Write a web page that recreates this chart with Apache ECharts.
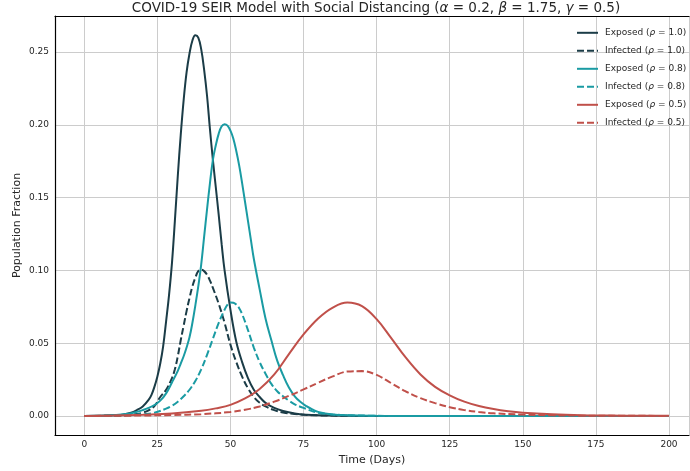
<!DOCTYPE html>
<html>
<head>
<meta charset="utf-8">
<script src="https://cdn.jsdelivr.net/npm/echarts@6/dist/echarts.min.js"></script>
<style>html,body{margin:0;padding:0;background:#fff;}#c{width:690px;height:471px;}</style>
</head>
<body>
<div id="c"></div>
<script>
// ---- data ----
const xTicks = [0, 25, 50, 75, 100, 125, 150, 175, 200];
const yTicks = [0.00, 0.05, 0.10, 0.15, 0.20, 0.25];

const seriesNames = [
  'Exposed (ρ = 1.0)', 'Infected (ρ = 1.0)',
  'Exposed (ρ = 0.8)', 'Infected (ρ = 0.8)',
  'Exposed (ρ = 0.5)', 'Infected (ρ = 0.5)'
];

const e1Days = [0,5,10,13,16,18,20,22,23,24,25,26,27,28,29,30,31,32,33,34,35,36,37,38,39,40,41,42,43,44,45,46,47,48,50,52,54,56,58,60,62,65,68,72,76,80,90,100,200];
const e1Vals = [0,0.0001,0.0004,0.0009,0.0022,0.004,0.0065,0.011,0.0145,0.020,0.027,0.036,0.048,0.065,0.083,0.105,0.134,0.165,0.193,0.217,0.236,0.249,0.258,0.2615,0.260,0.252,0.238,0.220,0.197,0.176,0.157,0.138,0.118,0.100,0.073,0.051,0.037,0.026,0.018,0.013,0.009,0.0055,0.0034,0.0017,0.0008,0.0004,0.0001,0,0];

const i1Days = [0,10,15,18,20,22,24,26,28,30,31,32,33,34,35,36,37,38,39,40,41,42,43,44,46,48,50,52,54,56,58,60,62,65,68,72,76,80,90,100,200];
const i1Vals = [0,0.0001,0.0006,0.0013,0.0022,0.0038,0.0068,0.013,0.018,0.026,0.032,0.041,0.052,0.062,0.072,0.081,0.089,0.095,0.0995,0.1005,0.0995,0.097,0.093,0.088,0.077,0.064,0.049,0.037,0.027,0.019,0.013,0.009,0.0065,0.004,0.0024,0.0013,0.0007,0.0004,0.0001,0,0];

const e2Days = [0,5,10,15,18,20,22,24,26,28,30,32,33,34,35,36,37,38,39,40,41,42,43,44,45,46,47,48,49,50,51,52,53,54,55,56,57,58,60,62,64,66,68,70,72,74,76,78,80,85,90,100,110,200];
const e2Vals = [0,0.0001,0.0005,0.0015,0.0028,0.004,0.0055,0.0075,0.0105,0.0155,0.023,0.031,0.036,0.041,0.047,0.054,0.064,0.076,0.089,0.104,0.123,0.142,0.160,0.176,0.186,0.194,0.199,0.2005,0.1995,0.196,0.1905,0.182,0.172,0.160,0.147,0.134,0.121,0.108,0.087,0.067,0.052,0.038,0.028,0.0195,0.0135,0.0095,0.0067,0.0045,0.0028,0.001,0.0004,0.0001,0,0];

const i2Days = [0,10,15,20,24,28,30,32,34,36,38,40,42,44,46,48,49,50,51,52,53,54,56,58,60,62,64,66,68,70,72,75,80,85,90,100,110,200];
const i2Vals = [0,0.0001,0.0004,0.0012,0.0022,0.005,0.007,0.0098,0.0135,0.018,0.024,0.032,0.042,0.053,0.064,0.073,0.0765,0.078,0.0778,0.0765,0.074,0.070,0.059,0.047,0.037,0.029,0.022,0.017,0.0135,0.0105,0.008,0.0055,0.0022,0.001,0.0005,0.0001,0,0];

const e3Days = [0,10,20,30,40,45,50,55,60,65,70,75,80,85,90,95,100,105,110,115,120,125,130,135,140,145,150,160,170,180,190,200];
const e3Vals = [0,0.0003,0.0008,0.0016,0.0035,0.0052,0.0076,0.012,0.0185,0.0285,0.0425,0.056,0.067,0.0745,0.078,0.0755,0.0665,0.0535,0.040,0.0285,0.020,0.0142,0.0098,0.0068,0.0047,0.0032,0.0022,0.0011,0.0005,0.0003,0.0001,0.0001];

const i3Days = [0,10,20,30,40,50,55,60,65,70,75,80,85,90,95,100,105,110,115,120,125,130,135,140,150,160,170,185,200];
const i3Vals = [0,0.0001,0.0003,0.0006,0.0012,0.0027,0.0042,0.0065,0.0098,0.0138,0.0182,0.0228,0.0272,0.0305,0.0308,0.0282,0.0225,0.0168,0.0122,0.0088,0.006,0.004,0.0027,0.0018,0.0009,0.0004,0.0002,0.0001,0];

// ---- styling ----
const FONT = 'DejaVu Sans';
const TXT = '#262626';
const colors = ['#1b3c47', '#1b3c47', '#1a9ba3', '#1a9ba3', '#c0504a', '#c0504a'];
const dashed = [false, true, false, true, false, true];
const allDays = [e1Days, i1Days, e2Days, i2Days, e3Days, i3Days];
const allVals = [e1Vals, i1Vals, e2Vals, i2Vals, e3Vals, i3Vals];

function pairs(d, v) { return d.map((t, k) => [t, v[k]]); }

const series = seriesNames.map((nm, k) => ({
  name: nm,
  type: 'line',
  xAxisIndex: 0, yAxisIndex: 0,
  data: pairs(allDays[k], allVals[k]),
  symbol: 'none',
  smooth: 0.4,
  color: colors[k],
  lineStyle: { color: colors[k], width: 2, type: dashed[k] ? [7, 3] : 'solid' },
  z: 3 + k,
  animation: false
}));

const chart = echarts.init(document.getElementById('c'), null, { renderer: 'canvas' });
chart.setOption({
  animation: false,
  backgroundColor: '#ffffff',
  graphic: [{
    type: 'text',
    x: 376, y: 8.5,
    style: {
      text: '{n|COVID-19 SEIR Model with Social Distancing (}{i|α}{n| = 0.2, }{i|β}{n| = 1.75, }{i|γ}{n| = 0.5)}',
      align: 'center', verticalAlign: 'middle',
      fill: TXT,
      rich: {
        n: { fontFamily: FONT, fontSize: 13.5, fill: TXT, color: TXT },
        i: { fontFamily: FONT, fontSize: 13.5, fontStyle: 'italic', fill: TXT, color: TXT }
      }
    }
  }],
  grid: {
    left: 55, top: 16, right: 1, height: 419,
    outerBoundsMode: 'none',
    containLabel: false,
    show: false
  },
  legend: {
    orient: 'vertical',
    left: 576, top: 28,
    padding: 0,
    itemWidth: 21, itemHeight: 12, itemGap: 8.4,
    itemStyle: { opacity: 0 },
    data: seriesNames,
    formatter: function (name) {
      const m = name.match(/^(\w+) \(ρ = ([\d.]+)\)$/);
      return '{p| }{n|' + m[1] + ' (}{i|ρ}{n| = ' + m[2] + ')}';
    },
    textStyle: {
      fontFamily: FONT, fontSize: 9, color: TXT,
      rich: {
        p: { width: 2, fontSize: 9 },
        n: { fontFamily: FONT, fontSize: 9, color: TXT },
        i: { fontFamily: FONT, fontSize: 9, fontStyle: 'italic', color: TXT }
      }
    }
  },
  xAxis: [{
    type: 'value',
    min: -10, max: 206.84,
    minInterval: 25, maxInterval: 25,
    name: 'Time (Days)',
    nameLocation: 'middle', nameGap: 20,
    nameMoveOverlap: false,
    nameTextStyle: { fontFamily: FONT, fontSize: 11, color: TXT },
    axisLine: { show: true, onZero: false, lineStyle: { color: '#000', width: 1.2 } },
    axisTick: { show: false },
    axisLabel: {
      show: true, margin: 5, fontFamily: FONT, fontSize: 9, color: TXT,
      showMinLabel: false, showMaxLabel: false,
      formatter: v => (xTicks.indexOf(v) >= 0 ? String(v) : '')
    },
    splitLine: { show: true, lineStyle: { color: '#cccccc', width: 1 } }
  }, {
    type: 'value',
    position: 'top',
    min: -10, max: 206.84,
    axisLine: { show: true, onZero: false, lineStyle: { color: '#000', width: 1.2 } },
    axisTick: { show: false },
    axisLabel: { show: false },
    splitLine: { show: false }
  }],
  yAxis: {
    type: 'value',
    min: -0.0131, max: 0.2748,
    minInterval: 0.05, maxInterval: 0.05,
    name: 'Population Fraction',
    nameLocation: 'middle', nameGap: 32,
    nameMoveOverlap: false,
    nameTextStyle: { fontFamily: FONT, fontSize: 11, color: TXT },
    axisLine: { show: true, onZero: false, lineStyle: { color: '#000', width: 1.2 } },
    axisTick: { show: false },
    axisLabel: {
      show: true, margin: 6, fontFamily: FONT, fontSize: 9, color: TXT,
      showMinLabel: false, showMaxLabel: false,
      formatter: v => {
        const hit = yTicks.find(t => Math.abs(t - v) < 1e-9);
        return hit === undefined ? '' : hit.toFixed(2);
      }
    },
    splitLine: { show: true, lineStyle: { color: '#cccccc', width: 1 } }
  },
  series: series
});
</script>
</body>
</html>
